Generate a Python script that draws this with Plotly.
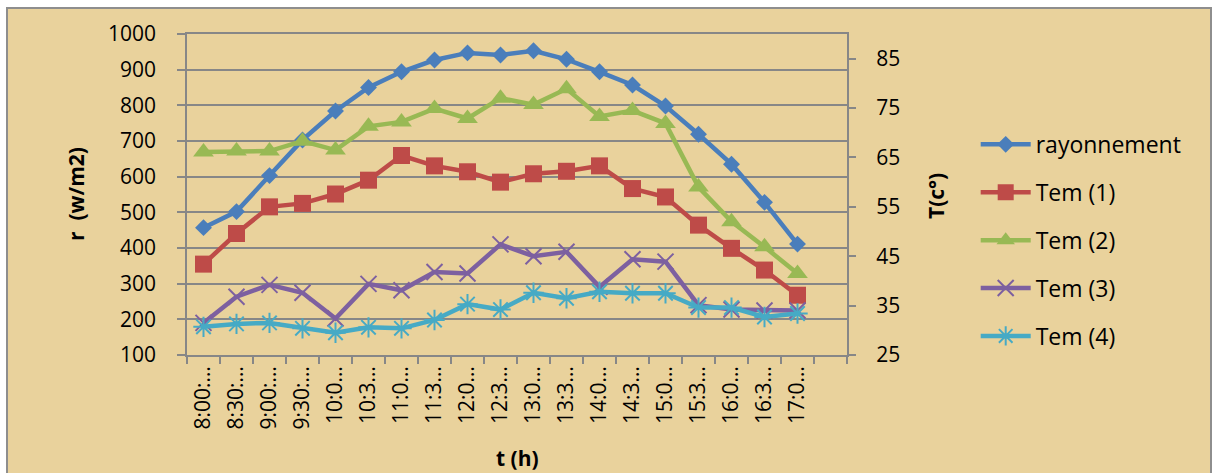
import plotly.graph_objects as go

# Time of day (half-hour steps); the category axis keeps one trailing empty slot
heures = ["8:00:…", "8:30:…", "9:00:…", "9:30:…", "10:0…", "10:3…", "11:0…",
          "11:3…", "12:0…", "12:3…", "13:0…", "13:3…", "14:0…", "14:3…",
          "15:0…", "15:3…", "16:0…", "16:3…", "17:0…"]
categorie_vide = [" "]

# Solar radiation (W/m2), left axis
rayonnement = [457, 502, 603, 703, 784, 850, 894, 927, 947, 941, 953, 929,
               894, 857, 798, 719, 635, 528, 411]

# Temperatures (°C), right axis
tem1 = [43.4, 49.6, 55.0, 55.7, 57.6, 60.4, 65.4, 63.3, 62.1, 60.0, 61.7, 62.2,
        63.3, 58.7, 57.0, 51.3, 46.6, 42.2, 37.1]
tem2 = [66.1, 66.3, 66.3, 68.3, 66.5, 71.3, 72.2, 74.9, 72.9, 77.0, 75.7, 78.9,
        73.3, 74.5, 71.9, 59.0, 52.0, 46.9, 41.5]
tem3 = [31.5, 36.8, 39.2, 37.6, 32.4, 39.4, 38.1, 41.8, 41.5, 47.4, 45.0, 45.9,
        38.8, 44.4, 43.9, 35.1, 34.2, 34.0, 34.0]
tem4 = [30.7, 31.3, 31.5, 30.4, 29.5, 30.6, 30.4, 32.1, 35.3, 34.2, 37.6, 36.5,
        37.8, 37.5, 37.5, 34.6, 34.6, 32.7, 33.4]

gauche_ticks = list(range(100, 1001, 100))
droite_ticks = list(range(25, 86, 10))

FONT = "Open Sans"
GRIS = "#878787"
PARCHEMIN = "#E9D29C"

fig = go.Figure()

fig.add_trace(go.Scatter(
    x=heures, y=rayonnement, name="rayonnement", legendgroup="a",
    mode="lines+markers", line=dict(color="#4A7EBB", width=4.5),
    marker=dict(symbol="diamond", size=13, color="#4A7EBB"),
))

series_t = [
    ("Tem (1)", tem1, "#BE4B48", dict(symbol="square", size=17)),
    ("Tem (2)", tem2, "#98B954", dict(symbol="triangle-up", size=18)),
    ("Tem (3)", tem3, "#7D60A0", dict(symbol="x-thin-open", size=16,
                                      line=dict(width=2, color="#7D60A0"))),
    ("Tem (4)", tem4, "#46AAC5", dict(symbol="asterisk-open", size=17,
                                      line=dict(width=2, color="#46AAC5"))),
]
for i, (nom, vals, coul, mk) in enumerate(series_t):
    mk = dict(mk, color=coul)
    fig.add_trace(go.Scatter(
        x=heures, y=vals, name=nom, legendgroup="g%d" % i, yaxis="y2",
        mode="lines+markers", line=dict(color=coul, width=4.5), marker=mk,
    ))


def titre(texte, px, py, angle=0):
    """Bold axis title centred on a pixel position of the page."""
    return dict(text="<b>%s</b>" % texte, xref="paper", yref="paper",
                x=(px - 187) / 660, y=(355 - py) / 321,
                xanchor="center", yanchor="middle", textangle=angle,
                showarrow=False, font=dict(size=21))


fig.update_layout(
    width=1219, height=473,
    margin=dict(l=187, r=372, t=34, b=118),
    paper_bgcolor="white",
    plot_bgcolor="white",
    font=dict(family=FONT, size=21, color="black"),
    xaxis=dict(
        type="category",
        categoryorder="array", categoryarray=heures + categorie_vide,
        range=[-0.5, len(heures) + 0.5],
        tickson="boundaries", ticks="outside", ticklen=7, tickcolor=GRIS,
        tickwidth=1.5, tickangle=-90, showgrid=False,
        showline=True, linecolor=GRIS, linewidth=1.5, mirror=True,
        tickfont=dict(size=21), ticklabelstandoff=1,
    ),
    yaxis=dict(
        range=[100, 1000], tickvals=gauche_ticks,
        ticks="outside", ticklen=8, tickcolor=GRIS, tickwidth=1.5,
        showgrid=True, gridcolor=GRIS, gridwidth=1.5,
        showline=True, linecolor=GRIS, linewidth=1.5, mirror=True,
        zeroline=False, tickfont=dict(size=21), ticklabelstandoff=17,
    ),
    yaxis2=dict(
        overlaying="y", side="right", range=[25, 90], tickvals=droite_ticks,
        ticks="outside", ticklen=8, tickcolor=GRIS, tickwidth=1.5,
        showgrid=False, zeroline=False, showline=False,
        tickfont=dict(size=21), ticklabelstandoff=16,
    ),
    legend=dict(
        x=1.195, y=0.723, xanchor="left", yanchor="top",
        bgcolor="rgba(0,0,0,0)", font=dict(size=23),
        traceorder="grouped", tracegroupgap=15, itemwidth=50,
    ),
    shapes=[dict(
        type="rect", xref="paper", yref="paper", layer="below",
        x0=(7 - 187) / 660, x1=(1211 - 187) / 660,
        y0=(321 - 480) / 321, y1=(321 + 26) / 321,
        fillcolor=PARCHEMIN, line=dict(color="#8E8E8E", width=2),
    )],
    annotations=[
        titre("r  (w/m2)", 76, 194, -90),
        titre("T(c°)", 936, 196, -90),
        titre("t (h)", 517, 458),
    ],
)

fig.write_html("out.html")
